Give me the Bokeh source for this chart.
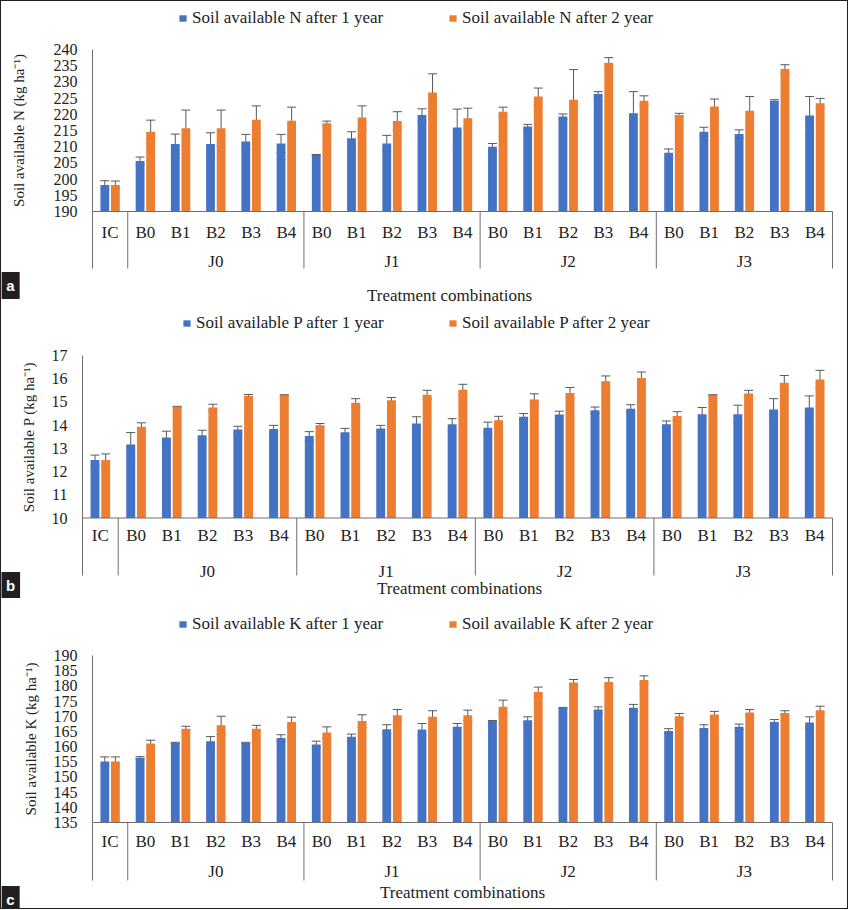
from bokeh.plotting import figure
from bokeh.models import (Range1d, ColumnDataSource, Whisker, TeeHead, Legend, LegendItem,
                          SingleIntervalTicker, Label)
from bokeh.layouts import column
from bokeh.embed import file_html
from bokeh.resources import INLINE
from bokeh.core.properties import value

# ---------------- data ----------------
categories = ["IC",
              "B0", "B1", "B2", "B3", "B4",
              "B0", "B1", "B2", "B3", "B4",
              "B0", "B1", "B2", "B3", "B4",
              "B0", "B1", "B2", "B3", "B4"]
groups = ["J0", "J1", "J2", "J3"]
group_size = 5
x_title = "Treatment combinations"

N_1yr = [198.2, 205.6, 210.8, 210.8, 211.6, 211.0, 207.4, 212.6, 211.0, 219.8, 215.9,
         210.0, 216.2, 219.3, 226.3, 220.3, 208.1, 214.6, 213.9, 224.2, 219.6]
N_1yr_err = [1.3, 1.2, 3.1, 3.5, 2.2, 2.8, 0.2, 2.0, 2.5, 1.9, 5.7,
             1.0, 0.7, 0.8, 0.7, 6.7, 1.2, 1.4, 1.3, 0.3, 5.9]
N_2yr = [198.2, 214.6, 215.7, 215.7, 218.3, 218.0, 217.2, 219.0, 217.9, 226.7, 218.8,
         220.8, 225.5, 224.5, 235.9, 224.2, 219.8, 222.4, 221.1, 234.0, 223.4]
N_2yr_err = [1.2, 3.6, 5.6, 5.6, 4.3, 4.2, 0.7, 3.6, 2.9, 5.8, 3.1,
             1.4, 2.6, 9.3, 1.6, 1.5, 0.5, 2.3, 4.4, 1.3, 1.5]

P_1yr = [12.50, 13.17, 13.47, 13.57, 13.81, 13.83, 13.53, 13.69, 13.86, 14.07, 14.04,
         13.89, 14.36, 14.46, 14.64, 14.71, 14.04, 14.47, 14.47, 14.67, 14.76]
P_1yr_err = [0.21, 0.51, 0.27, 0.21, 0.14, 0.16, 0.19, 0.17, 0.13, 0.29, 0.24,
             0.24, 0.14, 0.14, 0.14, 0.17, 0.14, 0.29, 0.39, 0.47, 0.50]
P_2yr = [12.50, 13.93, 14.79, 14.76, 15.26, 15.29, 14.00, 14.96, 15.07, 15.31, 15.53,
         14.21, 15.11, 15.39, 15.89, 16.03, 14.39, 15.29, 15.36, 15.83, 15.97]
P_2yr_err = [0.26, 0.17, 0.02, 0.14, 0.06, 0.02, 0.07, 0.18, 0.12, 0.19, 0.23,
             0.17, 0.24, 0.23, 0.23, 0.26, 0.19, 0.02, 0.14, 0.31, 0.39]

K_1yr = [155.1, 156.3, 161.2, 161.8, 161.2, 162.8, 160.7, 163.2, 165.7, 165.6, 166.5,
         168.4, 168.7, 172.7, 172.2, 172.8, 165.1, 166.1, 166.5, 168.1, 167.9]
K_1yr_err = [1.5, 0.4, 0.2, 1.5, 0.2, 1.1, 1.1, 0.9, 1.5, 2.0, 1.1,
             0.2, 1.1, 0.2, 0.9, 1.1, 0.8, 1.1, 0.9, 0.8, 1.9]
K_2yr = [155.1, 161.0, 165.9, 167.0, 165.9, 168.1, 164.6, 168.4, 170.3, 169.8, 170.3,
         173.1, 178.0, 181.1, 181.3, 181.9, 170.0, 170.6, 171.2, 171.1, 172.0]
K_2yr_err = [1.5, 1.1, 0.8, 3.0, 1.1, 1.6, 1.9, 2.1, 1.9, 2.0, 1.7,
             2.2, 1.6, 1.0, 1.4, 1.4, 0.9, 1.0, 1.0, 0.7, 1.3]

# ---------------- style ----------------
FONT = "Liberation Serif"
BLUE = "#4472C4"
ORANGE = "#ED7D31"
ERR = "#595959"
AXC = "#6e6e6e"
TXT = "#222222"
LBL = "17px"
W = 846


def make_panel(spec, v1, e1, v2, e2, nutrient):
    H = spec["H"]
    n = len(categories)
    px0, px1 = spec["px0"], spec["px1"]
    ppx = (px1 - px0) / n
    xs = -px0 / ppx
    xe = n + (W - px1) / ppx
    vmin, vmax = spec["vmin"], spec["vmax"]
    pt, pb = spec["pt"], spec["pb"]
    ppu = (pb - pt) / (vmax - vmin)
    ys = vmin - (H - pb) / ppu
    ye = vmax + pt / ppu

    def yv(py):
        return vmax - (py - pt) / ppu

    def xv(px):
        return (px - px0) / ppx

    p = figure(width=W, height=H, x_range=Range1d(xs, xe), y_range=Range1d(ys, ye),
               output_backend="svg", toolbar_location=None, x_axis_location=None,
               min_border_left=0, min_border_right=0, min_border_top=0,
               min_border_bottom=0, outline_line_color=None)
    p.grid.visible = False

    off, bw = 0.15, 0.25
    src = ColumnDataSource(dict(
        x1=[i + 0.5 - off for i in range(n)],
        x2=[i + 0.5 + off for i in range(n)],
        v1=v1, v2=v2,
        lo1=[a - b for a, b in zip(v1, e1)], hi1=[a + b for a, b in zip(v1, e1)],
        lo2=[a - b for a, b in zip(v2, e2)], hi2=[a + b for a, b in zip(v2, e2)],
    ))
    r1 = p.vbar(x="x1", top="v1", bottom=vmin, width=bw, fill_color=BLUE,
                line_color=None, source=src)
    r2 = p.vbar(x="x2", top="v2", bottom=vmin, width=bw, fill_color=ORANGE,
                line_color=None, source=src)
    for lo, hi, base in (("lo1", "hi1", "x1"), ("lo2", "hi2", "x2")):
        w = Whisker(base=base, lower=lo, upper=hi, source=src, line_color=ERR, line_width=1,
                    upper_head=TeeHead(size=9, line_color=ERR, line_width=1),
                    lower_head=TeeHead(size=9, line_color=ERR, line_width=1))
        p.add_layout(w)

    # category axis (Excel-style multi-level)
    bounds = [0, 1] + [1 + group_size * (k + 1) for k in range(len(groups))]
    p.segment(x0=[0], y0=[vmin], x1=[n], y1=[vmin], line_color=AXC, line_width=1)
    p.segment(x0=bounds, y0=[vmin] * len(bounds), x1=bounds,
              y1=[yv(spec["sep"])] * len(bounds), line_color=AXC, line_width=1)
    p.text(x=[i + 0.5 for i in range(n)], y=[yv(spec["brow"])] * n, text=categories,
           text_font=value(FONT), text_font_size=LBL, text_color=TXT,
           text_align="center", text_baseline="middle")
    gc = [1 + group_size * k + group_size / 2 for k in range(len(groups))]
    p.text(x=gc, y=[yv(spec["jrow"])] * len(gc), text=groups,
           text_font=value(FONT), text_font_size=LBL, text_color=TXT,
           text_align="center", text_baseline="middle")
    p.text(x=[xv(spec["tcx"])], y=[yv(spec["tcy"])], text=[x_title],
           text_font=value(FONT), text_font_size=LBL, text_color=TXT,
           text_align="center", text_baseline="middle")

    ax = p.yaxis[0]
    ax.fixed_location = 0
    ax.bounds = (vmin, vmax)
    ax.ticker = SingleIntervalTicker(interval=spec["step"], num_minor_ticks=0)
    ax.major_tick_line_color = None
    ax.minor_tick_line_color = None
    ax.major_tick_out = 0
    ax.major_tick_in = 0
    ax.axis_line_color = AXC
    ax.major_label_text_font = FONT
    ax.major_label_text_font_size = "16px"
    ax.major_label_text_color = TXT
    ax.major_label_standoff = spec["mls"]
    ax.axis_label = "Soil available %s (kg ha\u207b\u00b9)" % nutrient
    ax.axis_label_text_font = FONT
    ax.axis_label_text_font_size = "15px"
    ax.axis_label_text_font_style = "normal"
    ax.axis_label_text_color = TXT
    ax.axis_label_standoff = spec["als"]

    for r, yr, lx in ((r1, 1, spec["lx1"]), (r2, 2, spec["lx2"])):
        leg = Legend(items=[LegendItem(label=value("Soil available %s after %d year" % (nutrient, yr)),
                                       renderers=[r])],
                     location=(lx, H - spec["ly"] - 9), orientation="horizontal",
                     padding=0, margin=0, spacing=0, border_line_color=None,
                     background_fill_alpha=0, glyph_width=9, glyph_height=8,
                     label_standoff=5, label_text_font=FONT, label_text_font_size=LBL,
                     label_text_color=TXT, label_height=16)
        p.add_layout(leg)

    tag = Label(x=spec["tagx"], y=H - spec["tagy"], x_units="screen", y_units="screen",
                text=spec["tag"], text_color="white", text_font="Liberation Sans",
                text_font_style="bold", text_font_size="15px", text_align="center",
                text_baseline="middle", background_fill_color="#231f20", padding=5)
    p.add_layout(tag)
    return p


# layout positions (pixels inside each panel)
spec_a = dict(H=304, px0=91, px1=831, vmin=190, vmax=240, step=5,
              pt=48, pb=210, brow=231, jrow=259.5, sep=267, tcy=294, tcx=448,
              ly=17.5, lx1=177, lx2=447, mls=15, als=24, tag="a", tagx=9, tagy=284)
spec_b = dict(H=293, px0=81, px1=831, vmin=10, vmax=17, step=1,
              pt=50, pb=212.5, brow=230, jrow=266, sep=270, tcy=282.5, tcx=458,
              ly=19, lx1=181, lx2=447, mls=15, als=12, tag="b", tagx=9, tagy=280)
spec_c = dict(H=310, px0=91, px1=831, vmin=135, vmax=190, step=5,
              pt=57, pb=224, brow=243, jrow=273, sep=282, tcy=293.5, tcx=461,
              ly=27, lx1=177, lx2=447, mls=15, als=12, tag="c", tagx=9, tagy=301)

pa = make_panel(spec_a, N_1yr, N_1yr_err, N_2yr, N_2yr_err, "N")
pb = make_panel(spec_b, P_1yr, P_1yr_err, P_2yr, P_2yr_err, "P")
pc = make_panel(spec_c, K_1yr, K_1yr_err, K_2yr, K_2yr_err, "K")

layout = column(pa, pb, pc, spacing=0, styles={"border": "1px solid #231f20"})
open("out.html", "w").write(file_html(layout, INLINE))
